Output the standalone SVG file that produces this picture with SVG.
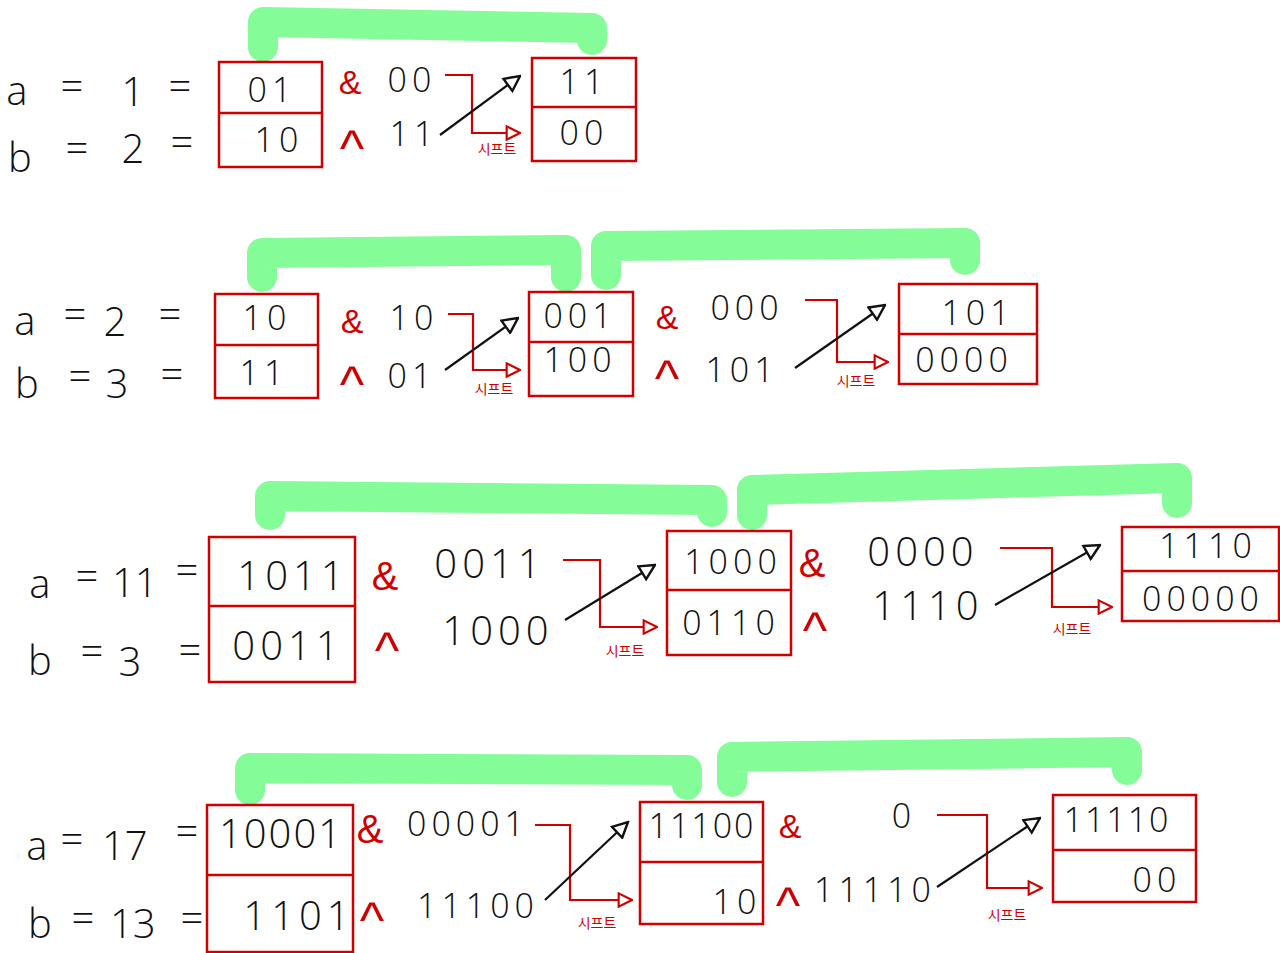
<svg xmlns="http://www.w3.org/2000/svg" width="1280" height="953" viewBox="0 0 1280 953">
<defs>
<style>
.bg{fill:#ffffff}
.box{fill:none;stroke:#d10000;stroke-width:2.5}
.div{stroke:#d10000;stroke-width:2.5}
.lbl{font-family:"Open Sans","Liberation Sans",sans-serif;font-weight:300;font-size:40px;fill:#111;text-anchor:middle}
.num{font-family:"Open Sans","Liberation Sans",sans-serif;font-weight:300;font-size:34px;fill:#111;text-anchor:middle;letter-spacing:5px}
.num4{font-size:40px}
.tight{letter-spacing:2px}
.op{font-family:"Liberation Sans",sans-serif;font-size:34px;fill:#d10000;text-anchor:middle}
.car{font-family:"Liberation Sans",sans-serif;font-size:52px;fill:#d10000;text-anchor:middle}
.sh{font-family:"Noto Sans CJK KR",sans-serif;font-size:14px;fill:#d10000;text-anchor:middle}
.green{fill:none;stroke:#84fc98;stroke-width:30;stroke-linecap:round;stroke-linejoin:round}
.red{fill:none;stroke:#d10000;stroke-width:2.2}
.blk{fill:none;stroke:#111;stroke-width:2.2}
</style>
<marker id="ab" viewBox="0 0 12 12" refX="11" refY="6" markerWidth="18" markerHeight="18" markerUnits="userSpaceOnUse" orient="auto">
<path d="M1,1 L11,6 L1,11 Z" fill="#fff" stroke="#111" stroke-width="1.6"/>
</marker>
<marker id="ar" viewBox="0 0 12 12" refX="11" refY="6" markerWidth="16" markerHeight="16" markerUnits="userSpaceOnUse" orient="auto">
<path d="M1,1 L11,6 L1,11 Z" fill="#fff" stroke="#d10000" stroke-width="1.6"/>
</marker>
</defs>
<rect class="bg" x="0" y="0" width="1280" height="953"/>

<g id="brackets">
<path class="green" d="M263,47 V22 L592,28 V40"/>
<path class="green" d="M262,277 V253 L566,250 V277"/>
<path class="green" d="M606,275 V246 L965,243 V260"/>
<path class="green" d="M270,515 V496 L712,500 V512"/>
<path class="green" d="M752,515 V490 L1177,478 V503"/>
<path class="green" d="M250,790 V768 L687,770 V785"/>
<path class="green" d="M732,782 V757 L1127,752 V770"/>
</g>

<g id="labels">
<text class="lbl"><tspan x="22" y="105">a</tspan> <tspan x="77" y="100">=</tspan> <tspan x="138" y="106">1</tspan> <tspan x="180" y="100">=</tspan></text>
<text class="lbl"><tspan x="25" y="172">b</tspan> <tspan x="82" y="162">=</tspan> <tspan x="138" y="163">2</tspan> <tspan x="182" y="156">=</tspan></text>
<text class="lbl"><tspan x="30" y="335">a</tspan> <tspan x="80" y="328">=</tspan> <tspan x="120" y="336">2</tspan> <tspan x="170" y="328">=</tspan></text>
<text class="lbl"><tspan x="32" y="398">b</tspan> <tspan x="85" y="390">=</tspan> <tspan x="122" y="398">3</tspan> <tspan x="172" y="388">=</tspan></text>
<text class="lbl"><tspan x="45" y="598">a</tspan> <tspan x="92" y="590">=</tspan> <tspan x="140" y="597">11</tspan> <tspan x="187" y="584">=</tspan></text>
<text class="lbl"><tspan x="45" y="675">b</tspan> <tspan x="97" y="665">=</tspan> <tspan x="135" y="676">3</tspan> <tspan x="190" y="664">=</tspan></text>
<text class="lbl"><tspan x="42" y="860">a</tspan> <tspan x="77" y="853">=</tspan> <tspan x="130" y="860">17</tspan> <tspan x="187" y="845">=</tspan></text>
<text class="lbl"><tspan x="45" y="938">b</tspan> <tspan x="88" y="932">=</tspan> <tspan x="138" y="938">13</tspan> <tspan x="192" y="932">=</tspan></text>
</g>

<g id="r1-box1">
<rect class="box" x="219" y="62" width="103" height="105"/>
<line class="div" x1="219" y1="113" x2="322" y2="113"/>
<text class="num" x="272" y="102">01</text>
<text class="num" x="279" y="152">10</text>
</g>
<g id="r1-ops">
<text class="op" x="350" y="94">&amp;</text>
<text class="num" x="412" y="92">00</text>
<text class="car" x="352" y="166">^</text>
<text class="num" x="414" y="146">11</text>
<text class="sh" x="497" y="154">시프트</text>
</g>
<g id="r1-box2">
<rect class="box" x="532" y="58" width="104" height="103"/>
<line class="div" x1="532" y1="107" x2="636" y2="107"/>
<text class="num" x="584" y="94">11</text>
<text class="num" x="584" y="145">00</text>
</g>

<g id="r2-box1">
<rect class="box" x="215" y="294" width="103" height="104"/>
<line class="div" x1="215" y1="345" x2="318" y2="345"/>
<text class="num" x="267" y="330">10</text>
<text class="num" x="264" y="385">11</text>
</g>
<g id="r2-ops1">
<text class="op" x="352" y="333">&amp;</text>
<text class="num" x="414" y="330">10</text>
<text class="car" x="352" y="402">^</text>
<text class="num" x="412" y="388">01</text>
<text class="sh" x="494" y="394">시프트</text>
</g>
<g id="r2-box2">
<rect class="box" x="529" y="292" width="104" height="104"/>
<line class="div" x1="529" y1="342" x2="633" y2="342"/>
<text class="num" x="580" y="328">001</text>
<text class="num" x="580" y="372">100</text>
</g>
<g id="r2-ops2">
<text class="op" x="667" y="329">&amp;</text>
<text class="num" x="747" y="320">000</text>
<text class="car" x="667" y="396">^</text>
<text class="num" x="742" y="382">101</text>
<text class="sh" x="856" y="386">시프트</text>
</g>
<g id="r2-box3">
<rect class="box" x="899" y="284" width="138" height="100"/>
<line class="div" x1="899" y1="334" x2="1037" y2="334"/>
<text class="num" x="978" y="325">101</text>
<text class="num" x="964" y="372">0000</text>
</g>

<g id="r3-box1">
<rect class="box" x="209" y="537" width="146" height="145"/>
<line class="div" x1="209" y1="606" x2="355" y2="606"/>
<text class="num num4" x="293" y="590">1011</text>
<text class="num num4" x="288" y="660">0011</text>
</g>
<g id="r3-ops1">
<text class="op" x="385" y="590" style="font-size:40px">&amp;</text>
<text class="num num4" x="490" y="578">0011</text>
<text class="car" x="387" y="668">^</text>
<text class="num num4" x="498" y="645">1000</text>
<text class="sh" x="625" y="656">시프트</text>
</g>
<g id="r3-box2">
<rect class="box" x="667" y="531" width="124" height="124"/>
<line class="div" x1="667" y1="590" x2="791" y2="590"/>
<text class="num" x="733" y="574">1000</text>
<text class="num" x="731" y="635">0110</text>
</g>
<g id="r3-ops2">
<text class="op" x="812" y="577" style="font-size:40px">&amp;</text>
<text class="num num4" x="923" y="566">0000</text>
<text class="car" x="815" y="648">^</text>
<text class="num num4" x="928" y="620">1110</text>
<text class="sh" x="1072" y="634">시프트</text>
</g>
<g id="r3-box3">
<rect class="box" x="1122" y="527" width="157" height="94"/>
<line class="div" x1="1122" y1="571" x2="1279" y2="571"/>
<text class="num" x="1208" y="558">1110</text>
<text class="num" x="1203" y="611">00000</text>
</g>

<g id="r4-box1">
<rect class="box" x="207" y="805" width="146" height="147"/>
<line class="div" x1="207" y1="875" x2="353" y2="875"/>
<text class="num num4 tight" x="281" y="848">10001</text>
<text class="num num4" x="299" y="930">1101</text>
</g>
<g id="r4-ops1">
<text class="op" x="370" y="843" style="font-size:40px">&amp;</text>
<text class="num" x="468" y="836">00001</text>
<text class="car" x="372" y="938">^</text>
<text class="num" x="478" y="918">11100</text>
<text class="sh" x="597" y="928">시프트</text>
</g>
<g id="r4-box2">
<rect class="box" x="640" y="802" width="123" height="122"/>
<line class="div" x1="640" y1="862" x2="763" y2="862"/>
<text class="num tight" x="702" y="838">11100</text>
<text class="num" x="737" y="914">10</text>
</g>
<g id="r4-ops2">
<text class="op" x="790" y="838">&amp;</text>
<text class="num" x="904" y="828">0</text>
<text class="car" x="788" y="923">^</text>
<text class="num" x="875" y="902">11110</text>
<text class="sh" x="1007" y="920">시프트</text>
</g>
<g id="r4-box3">
<rect class="box" x="1053" y="795" width="143" height="107"/>
<line class="div" x1="1053" y1="850" x2="1196" y2="850"/>
<text class="num tight" x="1117" y="832">11110</text>
<text class="num" x="1157" y="892">00</text>
</g>

<g id="connectors">
<path class="red" d="M445,75 H472 V133 H520" marker-end="url(#ar)"/>
<path class="blk" d="M440,135 L520,76" marker-end="url(#ab)"/>
<path class="red" d="M448,314 H473 V370 H520" marker-end="url(#ar)"/>
<path class="blk" d="M445,370 L518,318" marker-end="url(#ab)"/>
<path class="red" d="M805,300 H837 V362 H888" marker-end="url(#ar)"/>
<path class="blk" d="M795,368 L885,305" marker-end="url(#ab)"/>
<path class="red" d="M563,560 H600 V627 H657" marker-end="url(#ar)"/>
<path class="blk" d="M565,620 L655,565" marker-end="url(#ab)"/>
<path class="red" d="M1000,548 H1052 V607 H1112" marker-end="url(#ar)"/>
<path class="blk" d="M995,605 L1100,545" marker-end="url(#ab)"/>
<path class="red" d="M535,825 H570 V900 H632" marker-end="url(#ar)"/>
<path class="blk" d="M545,900 L628,822" marker-end="url(#ab)"/>
<path class="red" d="M937,815 H987 V888 H1042" marker-end="url(#ar)"/>
<path class="blk" d="M937,887 L1040,818" marker-end="url(#ab)"/>
</g>
</svg>
